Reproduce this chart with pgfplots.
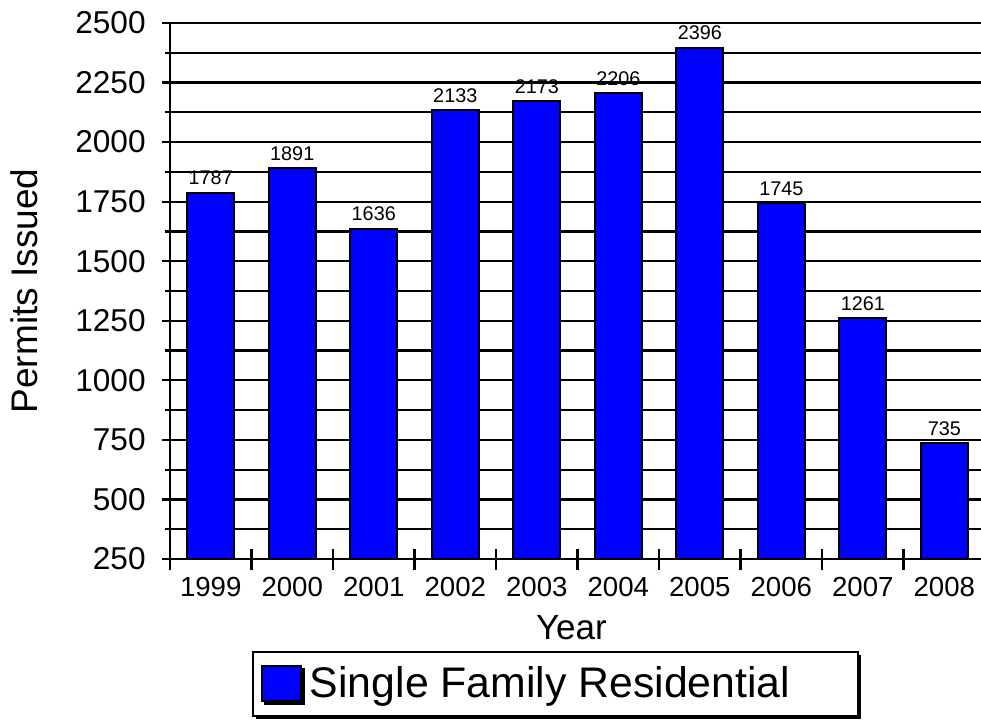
\documentclass[border=0pt]{standalone}
\usepackage{fontspec}
\setmainfont{Liberation Sans}
\usepackage{pgfplots}
\pgfplotsset{compat=1.18}
\usetikzlibrary{shadows}

% 1 px of the reference = 0.5pt
\begin{document}
\begin{tikzpicture}
\begin{axis}[
  scale only axis,
  width=405.5pt, height=268pt,
  xmin=-0.5, xmax=9.45,
  ymin=250, ymax=2500,
  ybar, bar width=23.5pt,
  axis x line=bottom, axis y line=left,
  axis line style={-, line width=1.1pt, black},
  /pgf/number format/.cd, 1000 sep={}, assume math mode=true, /pgfplots/.cd,
  tick align=center,
  major tick length=8pt, minor tick length=4.5pt,
  tick style={line width=1.1pt, black},
  xtick={0,...,9},
  xticklabels={1999,2000,2001,2002,2003,2004,2005,2006,2007,2008},
  major x tick style={draw=none},
  extra x ticks={-0.5,0.5,...,8.5},
  extra x tick labels={},
  extra x tick style={major tick length=10.5pt, major x tick style={draw=black}},
  ytick={250,500,...,2500},
  minor y tick num=1,
  ymajorgrids, yminorgrids,
  major grid style={line width=1.1pt, black},
  minor grid style={line width=1.1pt, black},
  xticklabel style={font=\fontsize{13.8}{16}\selectfont, inner sep=0pt, anchor=north},
  xticklabel shift=5pt,
  yticklabel style={font=\fontsize{15.8}{19}\selectfont, inner sep=0pt, anchor=east},
  yticklabel shift=8pt,
  xlabel={Year}, ylabel={Permits Issued},
  every axis x label/.style={at={(axis description cs:0.495,-0.1511)}, anchor=base, font=\fontsize{17.5}{21}\selectfont},
  every axis y label/.style={at={(axis description cs:-0.1628,0.5)}, rotate=90, anchor=base, font=\fontsize{18.5}{22}\selectfont},
  nodes near coords,
  nodes near coords style={font=\fontsize{9.9}{12}\selectfont, black},
  legend style={at={(axis description cs:0.101,-0.1716)}, anchor=north west,
    draw=black, line width=1pt, fill=white,
    drop shadow={shadow xshift=1.3pt, shadow yshift=-1.3pt, fill=black, opacity=1},
    font=\fontsize{21.4}{25}\selectfont, inner xsep=4pt, inner ysep=5.5pt},
]
\addplot[fill=blue, draw=black, line width=1pt,
  legend image code/.code={\draw[fill=blue, draw=black, line width=1pt] (0pt,-8.75pt) rectangle (19.5pt,8.75pt);}]
  coordinates {
  (0,1787)
  (1,1891)
  (2,1636)
  (3,2133)
  (4,2173)
  (5,2206)
  (6,2396)
  (7,1745)
  (8,1261)
  (9,735)
};
\addlegendentry{\hspace*{2pt}Single Family Residential\hspace*{28pt}}
\end{axis}
\pgfresetboundingbox
\path[use as bounding box] (-85pt,-80pt) rectangle (405.5pt,279.5pt);
\end{tikzpicture}
\end{document}
